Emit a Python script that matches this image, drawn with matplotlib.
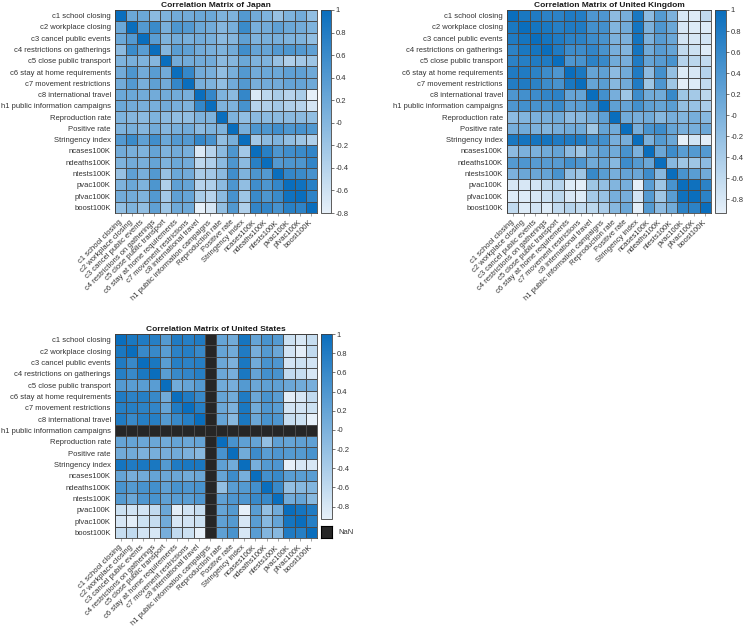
import numpy as np
import matplotlib.pyplot as plt
from matplotlib.colors import LinearSegmentedColormap

plt.rcParams['font.family'] = ['Liberation Sans', 'DejaVu Sans']
plt.rcParams['axes.unicode_minus'] = False

labels = ['c1 school closing', 'c2 workplace closing', 'c3 cancel public events',
          'c4 restrictions on gatherings', 'c5 close public transport',
          'c6 stay at home requirements', 'c7 movement restrictions',
          'c8 international travel', 'h1 public information campaigns',
          'Reproduction rate', 'Positive rate', 'Stringency index',
          'ncases100K', 'ndeaths100K', 'ntests100K', 'pvac100K', 'pfvac100K', 'boost100K']

n = np.nan

# correlation values (rows = labels)
japan = [
    [1, .2, .2, -.05, .05, .15, .15, .2, .2, .05, .05, .4, .15, .05, -.15, .05, .15, -.1],
    [.2, 1, .4, .6, .1, .45, .4, .2, .15, 0, .1, .6, .1, .15, .3, .2, .15, .05],
    [.2, .4, 1, .35, .05, .15, .1, .15, .1, -.05, 0, .3, .05, .1, .1, .05, .05, -.1],
    [-.05, .6, .35, 1, 0, .35, .3, .15, .1, .05, .15, .55, .25, .25, .4, .45, .4, .3],
    [.05, .1, .05, 0, 1, .15, .15, .15, .15, -.05, 0, .2, .05, .05, -.15, -.35, -.25, -.2],
    [.15, .45, .15, .35, .15, 1, .65, .15, .1, -.1, .1, .4, .15, .2, .2, .3, .3, .18],
    [.15, .4, .1, .3, .15, .65, 1, .1, .05, -.1, .15, .4, .1, .15, .15, .25, .25, .18],
    [.2, .2, .15, .15, .15, .15, .1, 1, .65, .05, -.05, .65, -.7, -.45, -.3, -.4, -.3, -.8],
    [.2, .15, .1, .1, .15, .1, .05, .65, 1, .05, .05, .5, -.4, -.35, -.25, -.35, -.4, -.65],
    [.05, 0, -.05, .05, -.05, -.1, -.1, .05, .05, 1, .05, -.1, -.05, -.05, -.05, -.05, -.05, -.1],
    [.05, .1, 0, .15, 0, .1, .15, -.05, .05, .05, 1, .1, .45, .45, .55, .45, .5, .42],
    [.4, .6, .3, .55, .2, .4, .4, .65, .5, -.1, .1, 1, -.25, -.05, .05, -.1, -.2, -.35],
    [.15, .1, .05, .25, .05, .15, .1, -.7, -.4, -.05, .45, -.25, 1, .75, .45, .55, .6, .67],
    [.05, .15, .1, .25, .05, .2, .15, -.45, -.35, -.05, .45, -.05, .75, 1, .4, .45, .45, .67],
    [-.15, .3, .1, .4, -.15, .2, .15, -.3, -.25, -.05, .55, .05, .45, .4, 1, .65, .6, .5],
    [.05, .2, .05, .45, -.35, .3, .25, -.4, -.35, -.05, .45, -.1, .55, .45, .65, 1, .95, .75],
    [.15, .15, .05, .4, -.25, .3, .25, -.3, -.4, -.05, .5, -.2, .6, .45, .6, .95, 1, .7],
    [-.1, .05, -.1, .3, -.2, .18, .18, -.8, -.65, -.1, .42, -.35, .67, .67, .5, .75, .7, 1],
]

uk = [
    [1, .85, .8, .7, .7, .8, .78, .4, .4, -.15, .05, .85, -.15, .35, 0, -.8, -.85, -.6],
    [.85, 1, .9, .85, .75, .8, .8, .5, .5, -.05, .1, .9, 0, .45, .15, -.8, -.85, -.85],
    [.8, .9, 1, .9, .8, .7, .7, .55, .45, 0, 0, .9, 0, .35, .15, -.75, -.8, -.75],
    [.7, .85, .9, 1, .8, .55, .55, .65, .45, .05, -.05, .9, .1, .35, .2, -.6, -.7, -.85],
    [.7, .75, .8, .8, 1, .4, .45, .7, .6, .1, .05, .8, .2, .35, .45, -.5, -.55, -.6],
    [.8, .8, .7, .55, .4, 1, .85, .2, .25, -.15, .1, .8, -.15, .55, -.2, -.85, -.8, -.5],
    [.78, .8, .7, .55, .45, .85, 1, .2, .3, -.1, .1, .8, -.3, .45, -.3, -.9, -.85, -.6],
    [.4, .5, .55, .65, .7, .2, .2, 1, .5, .05, -.3, .55, .1, .1, .6, -.3, -.35, -.55],
    [.4, .5, .45, .45, .6, .25, .3, .5, 1, .25, .2, .5, .25, .2, .3, -.2, -.25, -.4],
    [-.15, -.05, 0, .05, .1, -.15, -.1, .05, .25, 1, .1, .05, .1, -.1, .05, -.05, .05, -.1],
    [.05, .1, 0, -.05, .05, .1, .1, -.3, .2, .1, 1, .05, .45, .55, .2, .05, .05, .15],
    [.85, .9, .9, .9, .8, .8, .8, .55, .5, .05, .05, 1, 0, .35, .15, -.93, -.75, -.9],
    [-.15, 0, 0, .1, .2, -.15, -.3, .1, .25, .1, .45, 0, 1, .15, .55, .3, .35, .35],
    [.35, .35, .3, .3, .3, .45, .35, .1, .2, -.1, .55, .35, .15, 1, -.1, -.3, -.3, -.15],
    [0, .15, .15, .2, .45, -.2, -.3, .6, .3, .05, .2, .15, .55, -.1, 1, .45, .3, .1],
    [-.8, -.8, -.75, -.6, -.5, -.85, -.9, -.3, -.2, -.05, .05, -.93, .3, -.3, .45, 1, .95, .7],
    [-.85, -.85, -.8, -.7, -.55, -.8, -.85, -.35, -.25, .05, .05, -.75, .35, -.3, .3, .95, 1, .7],
    [-.6, -.85, -.75, -.85, -.6, -.5, -.6, -.55, -.4, -.1, .15, -.9, .35, -.15, .1, .7, .7, 1],
]

us = [
    [1, .85, .8, .75, .35, .8, .75, .8, n, .2, .1, .9, .2, .45, .35, -.7, -.8, -.65],
    [.85, 1, .6, .6, .3, .7, .75, .6, n, .2, .1, .8, .05, .35, .15, -.75, -.9, -.6],
    [.8, .6, 1, .85, .3, .75, .7, .75, n, .15, 0, .85, .1, .45, .4, -.75, -.7, -.75],
    [.75, .6, .85, 1, .3, .6, .65, .75, n, .15, .05, .85, .2, .5, .45, -.6, -.65, -.8],
    [.35, .3, .3, .3, 1, .1, .2, .35, n, .1, .05, .35, .15, .25, .25, .15, .1, .05],
    [.8, .7, .75, .6, .1, 1, .8, .6, n, .2, .1, .8, .15, .45, .3, -.9, -.8, -.6],
    [.75, .75, .7, .65, .2, .8, 1, .75, n, .15, 0, .85, .1, .4, .3, -.75, -.75, -.7],
    [.8, .6, .75, .75, .35, .6, .75, 1, n, .2, -.1, .85, .15, .45, .4, -.65, -.7, -.93],
    [n] * 18,
    [.2, .2, .15, .15, .1, .2, .15, .2, n, 1, .45, .25, .2, -.2, .25, .2, .25, .25],
    [.1, .1, 0, .05, .05, .1, 0, -.1, n, .45, 1, .1, .55, .3, .4, .35, .35, .45],
    [.9, .8, .85, .85, .35, .8, .85, .85, n, .25, .1, 1, .05, .35, .4, -.93, -.8, -.8],
    [.2, .05, .1, .2, .15, .15, .1, .15, n, .2, .55, .05, 1, .5, .6, .3, .3, .3],
    [.45, .35, .45, .5, .25, .45, .4, .45, n, -.2, .3, .35, .5, 1, .6, -.2, -.1, -.05],
    [.35, .15, .4, .45, .25, .3, .3, .4, n, .25, .4, .4, .6, .6, 1, .1, .2, -.1],
    [-.7, -.75, -.75, -.6, .15, -.9, -.75, -.65, n, .2, .35, -.93, .3, -.2, .1, 1, .9, .8],
    [-.8, -.9, -.7, -.65, .1, -.8, -.75, -.7, n, .25, .35, -.8, .3, -.1, .2, .9, 1, .75],
    [-.65, -.6, -.75, -.8, .05, -.6, -.7, -.93, n, .25, .45, -.8, .3, -.05, -.1, .8, .75, 1],
]

cmap = LinearSegmentedColormap.from_list('mblue', ['#e6f0f9', '#0a6ebd'])
cmap.set_bad('#262626')

W, H = 743, 627
fig = plt.figure(figsize=(W / 100, H / 100), dpi=100)


def box(x0, y0, x1, y1):
    return [x0 / W, 1 - y1 / H, (x1 - x0) / W, (y1 - y0) / H]


def heat(mat, title, ax_px, cb_px):
    a = np.array(mat, dtype=float)
    a = (a + a.T) / 2  # correlation matrix is symmetric
    m = np.ma.masked_invalid(a)
    ax = fig.add_axes(box(*ax_px))
    ax.set_facecolor('#262626')
    mesh = ax.pcolormesh(m, cmap=cmap, vmin=m.min(), vmax=1,
                         edgecolors='#4a4a4a', linewidth=0.5)
    ax.set_xlim(0, 18)
    ax.set_ylim(18, 0)
    ax.set_xticks(np.arange(18) + 0.5)
    ax.set_yticks(np.arange(18) + 0.5)
    ax.set_xticklabels(labels, rotation=45, ha='right', va='center',
                       rotation_mode='anchor', fontsize=5.5, color='#333333')
    ax.set_yticklabels(labels, fontsize=5.5, color='#333333')
    ax.tick_params(axis='x', length=2, width=0.5, color='#808080', pad=4)
    ax.tick_params(axis='y', length=0, pad=3)
    for s in ax.spines.values():
        s.set_color('#404040')
        s.set_linewidth(0.6)
    ax.set_title(title, fontsize=6, fontweight='bold', pad=2, color='#1a1a1a')

    cax = fig.add_axes(box(*cb_px))
    cb = fig.colorbar(mesh, cax=cax, ticks=np.arange(-0.8, 1.01, 0.2))
    cb.ax.set_yticklabels(['%g' % round(t, 1) for t in np.arange(-0.8, 1.01, 0.2)])
    cax.tick_params(labelsize=5.5, length=2, width=0.5, color='#404040',
                    labelcolor='#333333', pad=1.5)
    cb.outline.set_edgecolor('#404040')
    cb.outline.set_linewidth(0.6)
    return ax


heat(japan, 'Correlation Matrix of Japan', (115, 10, 317, 213), (321, 10, 331, 213))
heat(uk, 'Correlation Matrix of United Kingdom', (507, 10, 711, 213), (715, 10, 726, 213))
heat(us, 'Correlation Matrix of United States', (115, 334, 317, 538), (321, 334, 332, 519))

# NaN swatch
nax = fig.add_axes(box(321, 526, 332, 538))
nax.set_facecolor('#262626')
nax.set_xticks([])
nax.set_yticks([])
fig.text(338 / W, 1 - 532 / H, 'NaN', fontsize=5.5, color='#333333', va='center')

fig.savefig('out.png', dpi=100)
